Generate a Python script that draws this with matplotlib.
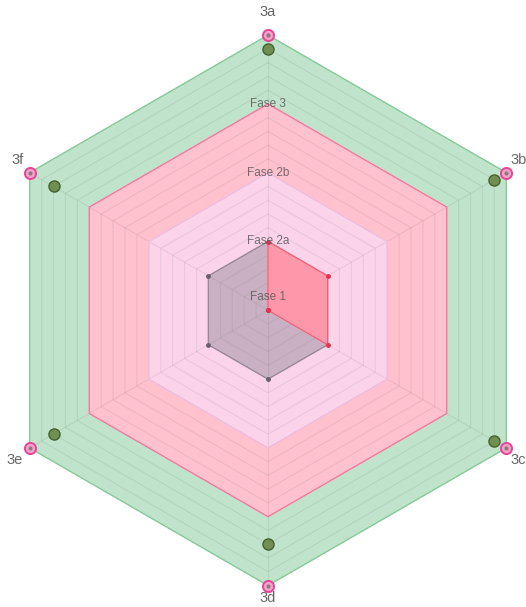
import numpy as np
import matplotlib.pyplot as plt

plt.rcParams['font.family'] = ['Liberation Sans', 'DejaVu Sans']

# Datos del radar
ejes = ['3a', '3b', '3c', '3d', '3e', '3f']
fases = ['Fase 1', 'Fase 2a', 'Fase 2b', 'Fase 3']
limite_fase = [1, 2, 3, 4]
pos_etiqueta_fase = [0.2, 1, 2, 3]
serie_gris = [1, 1, 1, 1, 1, 1]
serie_roja = [1, 1, 1, 0, 0, 0]
serie_verde = [3.8, 3.8, 3.8, 3.4, 3.6, 3.6]
serie_rosa = [4, 4, 4, 4, 4, 4]

color_fase = ['#c9b1c3', '#fcd4ea', '#ffc1cd', '#bfe3cb']
borde_fase = ['#9a8896', '#f0bcdc', '#f2799c', '#86cc98']

# angulos: 3a arriba, sentido horario
ang = np.deg2rad(90 - np.arange(len(ejes)) * 60)


def xy(vals):
    v = np.asarray(vals, dtype=float)
    return v * np.cos(ang), v * np.sin(ang)


fig = plt.figure(figsize=(5.26, 6.07), dpi=100)
ax = fig.add_axes([0, 0, 1, 1])
u = 68.8  # px por unidad
ax.set_xlim(-268 / u, (526 - 268) / u)
ax.set_ylim(-(607 - 310.3) / u, 310.3 / u)
ax.set_aspect('equal')
ax.axis('off')

# bandas de fases (de fuera hacia dentro)
for i in range(len(fases) - 1, -1, -1):
    x, y = xy([limite_fase[i]] * 6)
    ax.fill(x, y, color=color_fase[i], zorder=1)
    ax.plot(np.append(x, x[0]), np.append(y, y[0]), color=borde_fase[i], lw=0.9, zorder=3)

# rejilla hexagonal
for r in np.arange(0.2, 4.01, 0.2):
    x, y = xy([r] * 6)
    ax.plot(np.append(x, x[0]), np.append(y, y[0]), color='#707070', lw=0.8, alpha=0.13, zorder=2)
for k in range(6):
    ax.plot([0, 4 * np.cos(ang[k])], [0, 4 * np.sin(ang[k])], color='#707070', lw=0.8, alpha=0.13, zorder=2)

# serie roja
x, y = xy(serie_roja)
ax.fill(x, y, color='#ff97aa', zorder=4)
ax.plot(np.append(x, x[0]), np.append(y, y[0]), color='#f0506e', lw=0.8, alpha=0.8, zorder=5)
ax.plot(x, y, 'o', color='#e8304f', ms=2.5, zorder=6)

# serie gris (puntos de vertices)
x, y = xy(serie_gris)
ax.plot(x[3:], y[3:], 'o', color='#6b6068', ms=2.5, zorder=6)

# serie verde
x, y = xy(serie_verde)
ax.plot(x, y, 'o', ms=8, mfc='#6f8f53', mec='#46632f', mew=1, zorder=7)

# serie rosa
x, y = xy(serie_rosa)
ax.plot(x, y, 'o', ms=8, mfc='#f7a3c8', mec='#e6459a', mew=1.4, zorder=7)
ax.plot(x, y, 'o', ms=2, color='#8a7a84', zorder=8)

# etiquetas de fase
for nombre, r in zip(fases, pos_etiqueta_fase):
    ax.text(0, r, nombre, ha='center', va='center', fontsize=8.5, color='#5d5a5c', alpha=0.85, zorder=9)

# etiquetas de ejes
desplaz = [(0, 23), (12, 13), (12, -12), (0, -12), (-15, -12), (-12, 13)]
x, y = xy(serie_rosa)
for k, nombre in enumerate(ejes):
    ax.annotate(nombre, (x[k], y[k]), xytext=desplaz[k], textcoords='offset pixels',
                ha='center', va='center', fontsize=10.5, color='#666666')

fig.savefig('out.png', dpi=100)
